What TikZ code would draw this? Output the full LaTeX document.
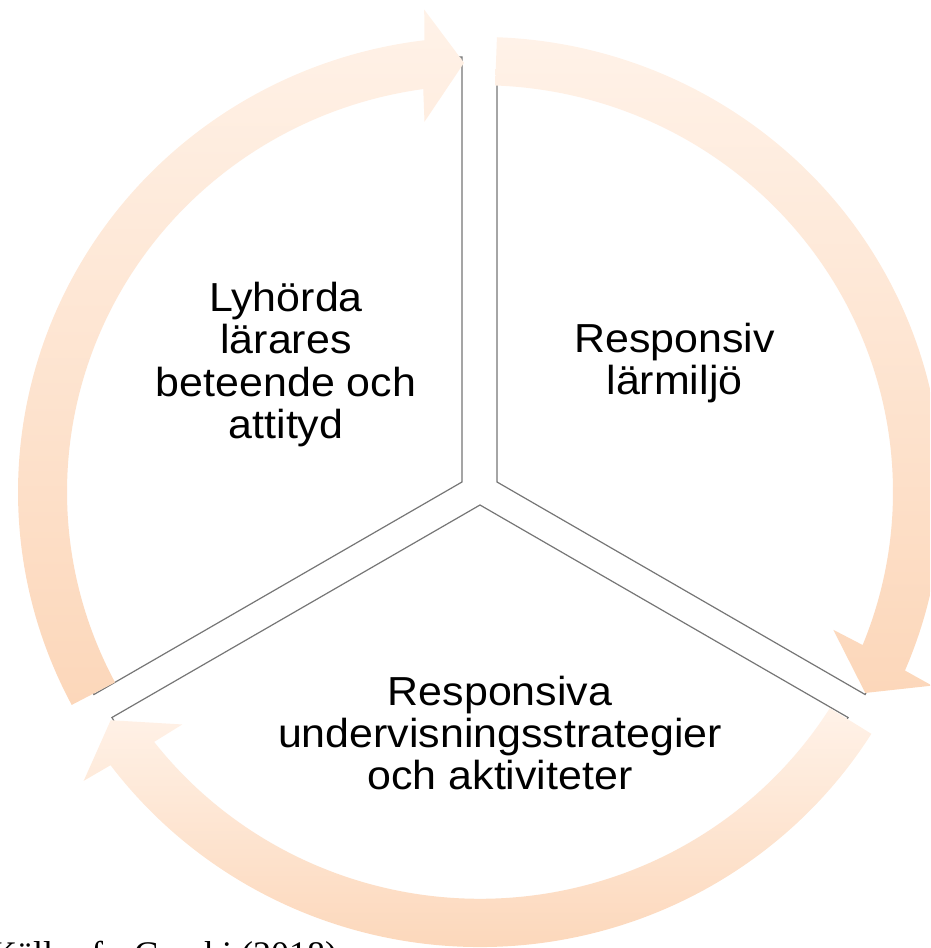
\documentclass[tikz,border=0pt]{standalone}
\usepackage{fontspec}
\setmainfont{Liberation Sans}
\newfontfamily\segfont[FakeStretch=1.06]{Liberation Sans}
\newfontfamily\captionfont{Liberation Serif}
\usepackage{tikz}
\definecolor{arrowlight}{RGB}{255,242,232}
\definecolor{arrowdark}{RGB}{252,215,186}
\definecolor{segline}{RGB}{118,118,118}
\tikzset{
segment/.style={fill=white, draw=segline, line width=1.2pt}, cyclearrow/.style={top color=arrowlight, bottom color=arrowdark, draw=none}, segtext/.style={align=center, inner sep=0, font=\segfont\fontsize{40.5}{42.3}\selectfont}, source/.style={inner sep=0, anchor=base west, font=\captionfont\fontsize{36}{40}\selectfont}}

\begin{document}
\begin{tikzpicture}[x=1pt, y=1pt]
\useasboundingbox (0,0) rectangle (930,948);
\clip (0,0) rectangle (930,948);
\coordinate (tl) at (462,466);
\coordinate (tr) at (497,466);
\coordinate (bt) at (480,443);
\draw [segment] (tl) -- ++(90:425) arc[start angle=90, end angle=210, radius=425pt] -- cycle;
\draw [segment] (tr) -- ++(-30:425) arc[start angle=-30, end angle=90, radius=425pt] -- cycle;
\draw [segment] (bt) -- ++(210:425) arc[start angle=210, end angle=330, radius=425pt] -- cycle;
\begin{scope}[shift={(480,456)}, yscale=0.985]
\foreach \r in {0,120,240}
  \shade [cyclearrow] ({87.9-\r}:462) arc[start angle={87.9-\r}, end angle={-23.1-\r}, radius=462pt] -- ({-23.5-\r}:493) -- ({-27.9-\r}:436) -- ({-21.6-\r}:380) -- ({-22.1-\r}:413) arc[start angle={-22.1-\r}, end angle={87.9-\r}, radius=413pt] -- cycle;
\end{scope}
\node [segtext] (teachers) at (286,583.5) {Lyhörda\\lärares\\beteende och\\attityd};
\node [segtext] (environment) at (674.5,585) {Responsiv\\lärmiljö};
\node [segtext] (strategies) at (500,215) {Responsiva\\undervisningsstrategier\\och aktiviteter};
\node [source] (credit) at (-9,-19) {Källa: fr. Gorski (2018)};
\end{tikzpicture}
\end{document}
